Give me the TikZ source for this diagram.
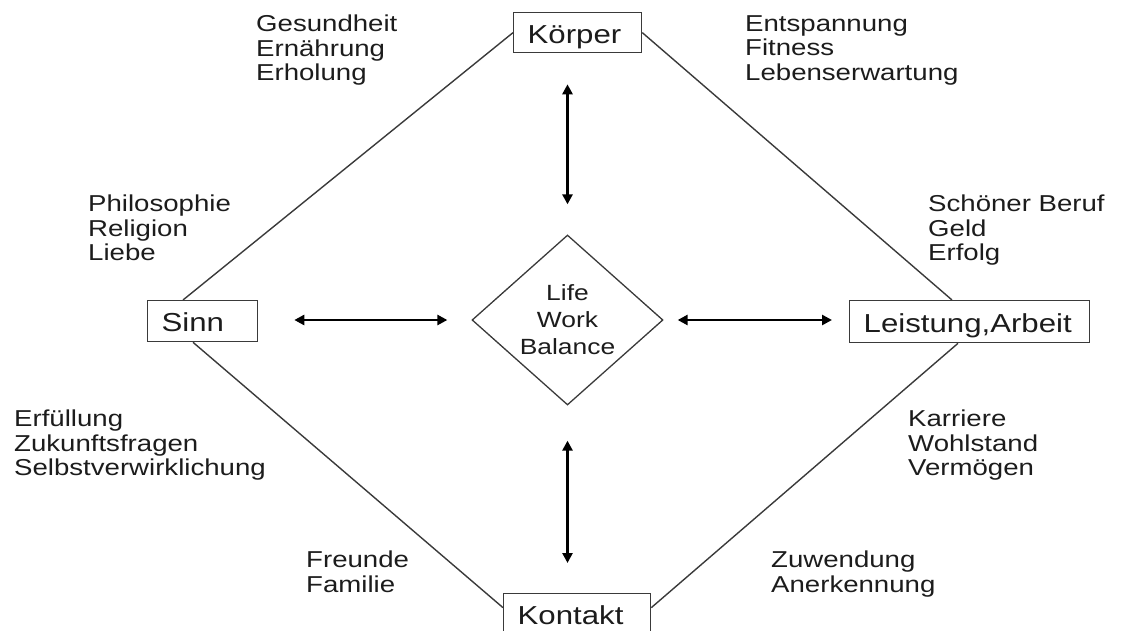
\documentclass[tikz,border=0pt]{standalone}
\usepackage{fontspec}
\setmainfont{Liberation Sans}
\newfontfamily\boxfont[FakeStretch=1.2]{Liberation Sans}
\newfontfamily\listfont[FakeStretch=1.2]{Liberation Sans}
\usetikzlibrary{shapes.geometric,arrows.meta}
\definecolor{ink}{HTML}{1C1C1C}
\definecolor{edge}{HTML}{3A3A3A}
\begin{document}
\begin{tikzpicture}[x=1pt,y=-1pt,
  lbl/.style={draw=edge, line width=1.3pt, fill=white, rectangle, anchor=north west,
    inner xsep=14pt, inner ysep=0pt, align=left, text=ink,
    text height=21pt, text depth=0pt, font=\boxfont\fontsize{26}{28}\selectfont},
  lst/.style={anchor=north west, inner sep=0pt, align=left, text=ink,
    font=\listfont\fontsize{23}{24.5}\selectfont},
  frame/.style={draw=edge, line width=1.4pt},
  dbl/.style={{Triangle[length=10pt,width=10pt]}-{Triangle[length=10pt,width=10pt]},
    line width=2.6pt, draw=black},
  dblv/.style={dbl, line width=3.2pt}]
\useasboundingbox (0,0) rectangle (1131,631);
\clip (0,0) rectangle (1131,631);

% boxes
\node[lbl, text width=100pt, minimum height=40pt] (koerper) at (513,12) {Körper};
\node[lbl, text width=82pt, minimum height=41pt] (sinn) at (147,300) {Sinn};
\node[lbl, text width=212pt, minimum height=42pt] (leistung) at (849,300) {Leistung,Arbeit};
\node[lbl, text width=119pt, minimum height=40pt] (kontakt) at (503,593) {Kontakt};

% centre diamond
\node[diamond, draw=edge, line width=1.3pt, minimum width=191pt, minimum height=170pt,
  inner sep=0pt, aspect=1.12, align=center, text=ink,
  font=\listfont\fontsize{22}{27}\selectfont] (lwb) at (567.5,320) {Life\\Work\\Balance};

% outer frame lines
\draw[frame] (koerper.west) -- ([xshift=36pt]sinn.north west);
\draw[frame] ([xshift=46pt]sinn.south west) -- ([yshift=6pt]kontakt.west);
\draw[frame] (koerper.east) -- ([xshift=103pt]leistung.north west);
\draw[frame] ([xshift=109pt]leistung.south west) -- ([yshift=6pt]kontakt.east);

% double arrows
\draw[dblv, shorten <=31pt, shorten >=30pt] (koerper.south -| lwb.north) -- (lwb.north);
\draw[dblv, shorten <=35pt, shorten >=30pt] (lwb.south) -- (lwb.south |- kontakt.north);
\draw[dbl, shorten <=36pt, shorten >=24pt] (sinn.east |- lwb.west) -- (lwb.west);
\draw[dbl, shorten <=14pt, shorten >=17pt] (lwb.east) -- (lwb.east -| leistung.west);

% text lists
\node[lst] (gesund) at (256,15) {Gesundheit\\Ernährung\\Erholung};
\node[lst] (entsp) at (745,15) {Entspannung\\Fitness\\Lebenserwartung};
\node[lst] (philo) at (88,195) {Philosophie\\Religion\\Liebe};
\node[lst] (schoen) at (928,195) {Schöner Beruf\\Geld\\Erfolg};
\node[lst] (erfuell) at (14,410) {Erfüllung\\Zukunftsfragen\\Selbstverwirklichung};
\node[lst] (karriere) at (908,410) {Karriere\\Wohlstand\\Vermögen};
\node[lst] (freunde) at (306,551) {Freunde\\Familie};
\node[lst] (zuwend) at (771,551) {Zuwendung\\Anerkennung};
\end{tikzpicture}
\end{document}
